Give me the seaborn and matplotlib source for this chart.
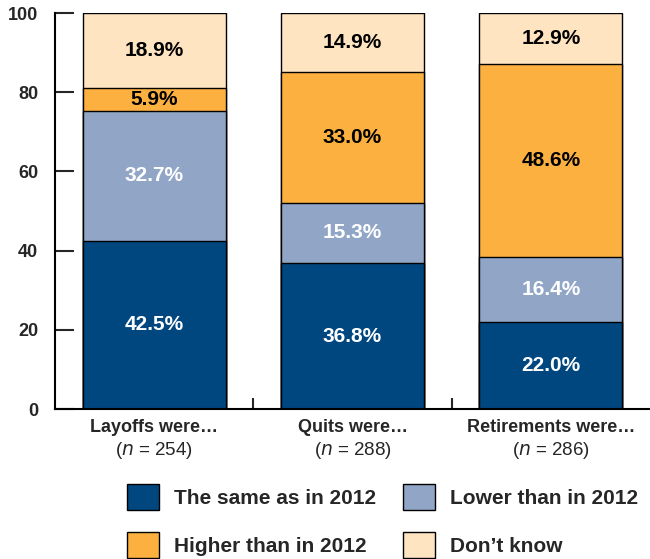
import numpy as np
import pandas as pd
import matplotlib
matplotlib.use("Agg")
import matplotlib.pyplot as plt
from matplotlib.patches import Patch
import seaborn as sns

# -------------------------
# Data
# -------------------------
categories = ["Layoffs were…", "Quits were…", "Retirements were…"]
n_values = [254, 288, 286]
same = [42.5, 36.8, 22.0]
lower = [32.7, 15.3, 16.4]
higher = [5.9, 33.0, 48.6]
dont_know = [18.9, 14.9, 12.9]

series_names = ["The same as in 2012", "Lower than in 2012",
                "Higher than in 2012", "Don’t know"]
series_vals = [same, lower, higher, dont_know]
colors = ["#00467f", "#91a6c7", "#fbb040", "#ffe4c2"]
text_colors = ["white", "white", "black", "black"]

sns.set_style("white")
plt.rcParams["font.family"] = ["Liberation Sans", "DejaVu Sans"]

fig = plt.figure(figsize=(6.5, 5.59), dpi=100)
ax = fig.add_axes([55 / 650, 150 / 559, 595 / 650, 396 / 559])

# cumulative stacks, drawn from the top layer down so lower ones overlay
vals = np.array(series_vals)
cum = np.cumsum(vals, axis=0)
for i in range(len(series_names) - 1, -1, -1):
    df = pd.DataFrame({"cat": categories, "val": cum[i]})
    sns.barplot(data=df, x="cat", y="val", color=colors[i], width=0.72,
                edgecolor="black", linewidth=1.0, saturation=1, ax=ax)

# segment labels
for i in range(len(series_names)):
    for j in range(len(categories)):
        mid = cum[i][j] - vals[i][j] / 2
        ax.text(j, mid, f"{vals[i][j]:.1f}%", ha="center", va="center",
                fontsize=15, fontweight="bold", color=text_colors[i])

ax.set_xlim(-0.5, 2.5)
ax.set_ylim(0, 100)
ax.set_yticks([0, 20, 40, 60, 80, 100])
ax.set_yticklabels(["0", "20", "40", "60", "80", "100"],
                   fontsize=13, fontweight="bold")
ax.set_xticks([0.5, 1.5])
ax.set_xticklabels([])
ax.tick_params(axis="y", direction="in", length=14, width=1.5, pad=12, left=True)
ax.tick_params(axis="x", direction="in", length=8, width=1.5, bottom=True)
ax.set_xlabel("")
ax.set_ylabel("")
for s in ["top", "right"]:
    ax.spines[s].set_visible(False)
for s in ["left", "bottom"]:
    ax.spines[s].set_color("black")
    ax.spines[s].set_linewidth(1.5)

# category labels
tr = ax.get_xaxis_transform()
for j, (c, n) in enumerate(zip(categories, n_values)):
    ax.text(j, -0.047, c, transform=tr, ha="center", va="center",
            fontsize=13, fontweight="bold")
    ax.text(j, -0.105, f"($\\mathit{{n}}$ = {n})", transform=tr, ha="center",
            va="center", fontsize=13.5)

# legend: row 1 same / lower, row 2 higher / don't know
order = [0, 2, 1, 3]
handles = [Patch(facecolor=colors[i], edgecolor="black", linewidth=1.0) for i in order]
labels = [series_names[i] for i in order]
fs = 15
px = fs * 100 / 72
leg = fig.legend(handles, labels, ncol=2, loc="upper left",
                 bbox_to_anchor=(127 / 650, 1 - 484 / 559), frameon=False,
                 borderpad=0, borderaxespad=0,
                 handlelength=32 / px, handleheight=32 / px,
                 handletextpad=15 / px, columnspacing=27 / px,
                 labelspacing=22 / px,
                 prop={"size": fs, "weight": "bold"})

fig.savefig("out.png", dpi=100)
